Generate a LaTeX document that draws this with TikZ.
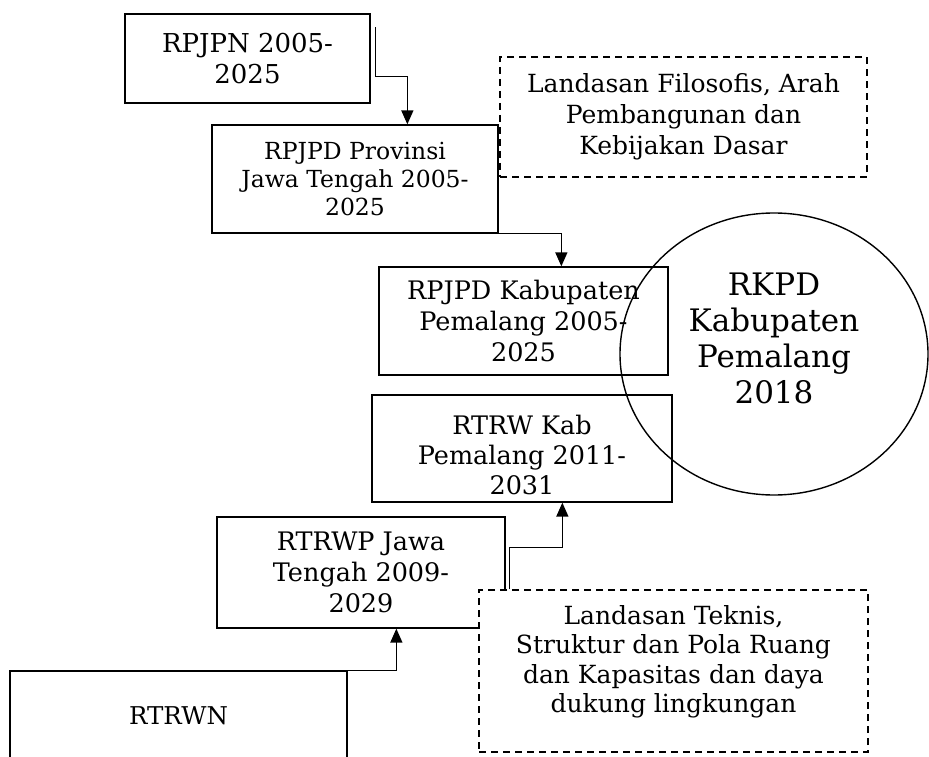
\documentclass[tikz,border=0pt]{standalone}
\usepackage{fontspec}
\setmainfont{DejaVu Serif}
\usetikzlibrary{arrows.meta,calc,shapes.geometric}
\tikzset{
  box/.style={draw, line width=1.3pt, align=center, inner sep=0pt, fill=white,
    font=\fontsize{25.5}{31}\selectfont},
  smallbox/.style={box, font=\fontsize{23.5}{28}\selectfont},
  dbox/.style={draw, dash pattern=on 7pt off 5pt, line width=1.2pt, fill=white,
    align=center, inner sep=0pt, font=\fontsize{25}{31}\selectfont},
  boxtext/.style={align=center, inner sep=0pt, font=\fontsize{25.5}{30}\selectfont},
  dtext/.style={align=center, inner sep=0pt, font=\fontsize{25}{29.5}\selectfont},
  otext/.style={align=center, inner sep=0pt, font=\fontsize{31}{36}\selectfont},
  conn/.style={line width=1.4pt, -{Triangle[length=14pt,width=12pt]}},
  oval/.style={ellipse, draw, line width=1.4pt, inner sep=0pt}
}
\begin{document}
\begin{tikzpicture}[x=1pt,y=-1pt]
\useasboundingbox (0,0) rectangle (929,757);
\node[box, font=\fontsize{26}{31}\selectfont, minimum width=245pt, minimum height=89pt] (b1) at (247.5,58.5) {RPJPN 2005-\\2025};
\node[dbox, minimum width=367pt, minimum height=120pt] (d1) at (683.5,117) {Landasan Filosofis, Arah\\Pembangunan dan\\Kebijakan Dasar};
\node[smallbox, minimum width=286pt, minimum height=108pt] (b2) at (355,179) {RPJPD Provinsi\\Jawa Tengah 2005-\\2025};
\node[box, minimum width=289pt, minimum height=108pt] (b3) at (523.5,321) {RPJPD Kabupaten\\Pemalang 2005-\\2025};
\node[box, minimum width=300pt, minimum height=107pt,
  label={[boxtext, yshift=-6pt]center:RTRW Kab\\Pemalang 2011-\\2031}] (b4) at (522,448.5) {};
\node[box, minimum width=288pt, minimum height=111pt] (b5) at (361,572.5) {RTRWP Jawa\\Tengah 2009-\\2029};
\node[box, font=\fontsize{24.5}{31}\selectfont, minimum width=337pt, minimum height=90pt] (b6) at (178.5,716) {RTRWN};
\node[dbox, minimum width=389pt, minimum height=162pt,
  label={[dtext, yshift=9pt]center:Landasan Teknis,\\Struktur dan Pola Ruang\\dan Kapasitas dan daya\\dukung lingkungan}] (d2) at (673.5,671) {};
\coordinate (k1) at ($(b1.north east)+(5,14)$);
\coordinate (k3) at ($(d2.north west)+(31,0)$);
\draw[conn] (k1) -- ++(0,49) -| ($(b2.north west)+(196,0)$);
\draw[conn] (b2.south east) -| ($(b3.north west)+(183,0)$);
\draw[conn] (k3) -- ++(0,-42) -| ($(b4.south west)+(191,0)$);
\draw[conn] (b6.north east) -| ($(b5.south west)+(180,0)$);
\node[oval, minimum width=308pt, minimum height=282pt,
  label={[otext, yshift=16pt]center:RKPD\\Kabupaten\\Pemalang\\2018}] (c) at (774,354) {};
\end{tikzpicture}
\end{document}
